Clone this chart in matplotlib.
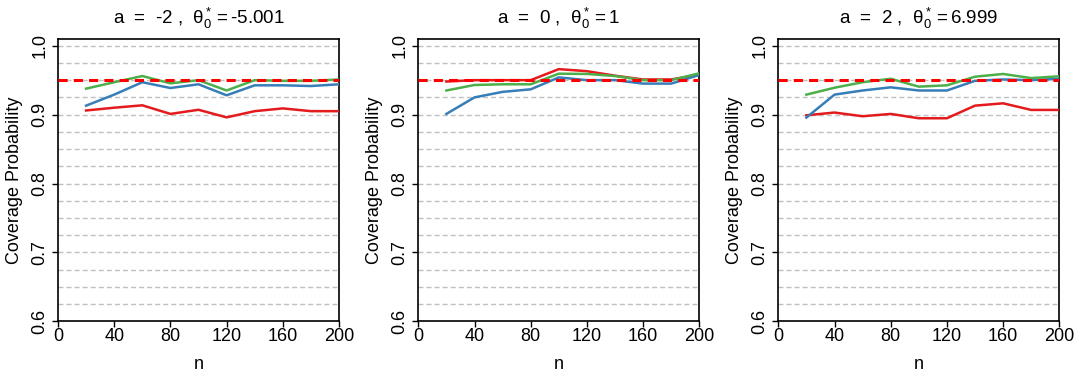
import numpy as np
import matplotlib
matplotlib.use('Agg')
import matplotlib.pyplot as plt

plt.rcParams['font.family'] = 'Liberation Sans'
plt.rcParams['mathtext.fontset'] = 'custom'
plt.rcParams['mathtext.rm'] = 'Liberation Sans'
plt.rcParams['mathtext.it'] = 'Liberation Sans'

n = [20, 40, 60, 80, 100, 120, 140, 160, 180, 200]
titles = [r'a  =  -2 ,  $\mathrm{θ}_0^*=$-5.001',
          r'a  =  0 ,  $\mathrm{θ}_0^*=$1',
          r'a  =  2 ,  $\mathrm{θ}_0^*=$6.999']

red = [
    [0.906, 0.910, 0.9135, 0.901, 0.907, 0.896, 0.905, 0.909, 0.905, 0.905],
    [0.948, 0.950, 0.950, 0.950, 0.966, 0.963, 0.9565, 0.951, 0.951, 0.958],
    [0.899, 0.903, 0.8976, 0.901, 0.8947, 0.8947, 0.913, 0.9164, 0.9068, 0.9068],
]
blue = [
    [0.913, 0.929, 0.947, 0.9386, 0.944, 0.928, 0.9425, 0.9425, 0.9415, 0.944],
    [0.901, 0.925, 0.933, 0.9367, 0.954, 0.950, 0.950, 0.945, 0.945, 0.9575],
    [0.8957, 0.929, 0.935, 0.9396, 0.935, 0.935, 0.949, 0.951, 0.950, 0.952],
]
green = [
    [0.9377, 0.947, 0.956, 0.9454, 0.950, 0.935, 0.950, 0.949, 0.949, 0.951],
    [0.935, 0.943, 0.944, 0.944, 0.9594, 0.959, 0.956, 0.950, 0.950, 0.960],
    [0.929, 0.939, 0.947, 0.952, 0.9406, 0.9425, 0.955, 0.959, 0.953, 0.9556],
]
nominal = 0.95
grid_levels = np.arange(0.625, 1.0001, 0.025)

fig = plt.figure(figsize=(10.8, 3.8), dpi=100)
lefts = [58 / 1080, 418.3 / 1080, 778.3 / 1080]
w = 281 / 1080
bottom = 1 - 321.3 / 380
h = (321.3 - 39.3) / 380

for i in range(3):
    ax = fig.add_axes([lefts[i], bottom, w, h])
    for g in grid_levels:
        ax.axhline(g, color='#c0c0c0', lw=1, dashes=(3.6, 2.2), zorder=1)
    ax.plot(n, red[i], color='#E41A1C', lw=1.8, zorder=3)
    ax.plot(n, blue[i], color='#377EB8', lw=1.8, zorder=3)
    ax.plot(n, green[i], color='#4DAF4A', lw=1.8, zorder=3)
    ax.axhline(nominal, color='#FF0000', lw=2.2, dashes=(3, 2), zorder=4)
    ax.set_xlim(0, 200)
    ax.set_ylim(0.6, 1.0093)
    ax.set_xticks([0, 40, 80, 120, 160, 200])
    ax.set_yticks([0.6, 0.7, 0.8, 0.9, 1.0])
    ax.set_yticklabels(['0.6', '0.7', '0.8', '0.9', '1.0'], rotation=90, va='center')
    ax.tick_params(axis='both', labelsize=13, length=4, width=1, color='black')
    ax.tick_params(axis='x', pad=1)
    ax.tick_params(axis='y', pad=3)
    for s in ax.spines.values():
        s.set_linewidth(1.2)
    ax.set_xlabel('n', fontsize=13, labelpad=8)
    ax.set_ylabel('Coverage Probability', fontsize=13, labelpad=6)
    ax.set_title(titles[i], fontsize=13.5, pad=11)

fig.savefig('out.png', dpi=100, facecolor='w')
